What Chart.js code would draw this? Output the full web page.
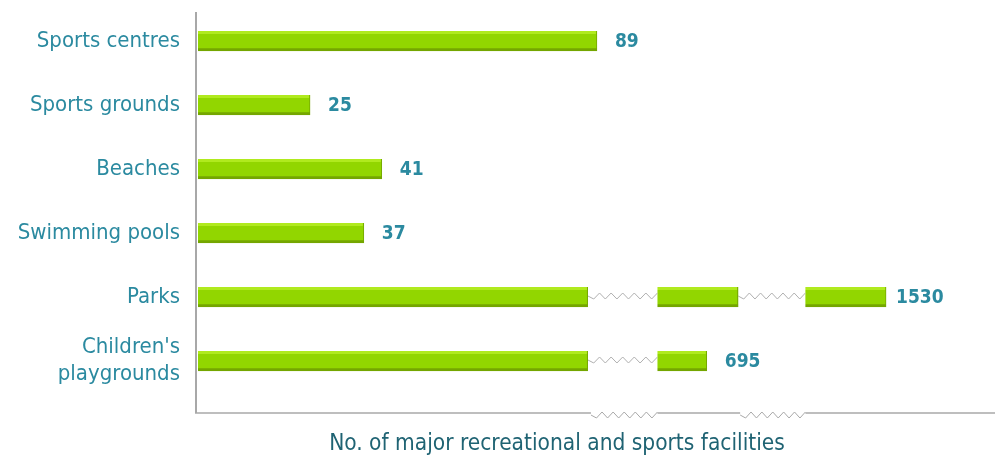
<!DOCTYPE html>
<html><head><meta charset="utf-8">
<script src="https://cdn.jsdelivr.net/npm/chart.js@4.4.1/dist/chart.umd.min.js"></script>
<style>html,body{margin:0;padding:0;background:#fff}#wrap{width:997px;height:457px}</style>
</head><body><div id="wrap"><canvas id="c" width="997" height="457"></canvas></div>
<script>
const categories = ["Sports centres", "Sports grounds", "Beaches", "Swimming pools", "Parks", ["Children's", "playgrounds"]];
const facilities = [89, 25, 41, 37, 1530, 695];
const axisTitle = "No. of major recreational and sports facilities";
// broken x-axis: [cut from, cut to, width of the gap in scale units]
const axisBreaks = [[89, 684, 13.5], [702, 1512, 15]];

const FONT = "'DejaVu Sans Condensed', 'DejaVu Sans', sans-serif";
const TEAL = '#2b8aa0';

function toDisplay(v) {
  let off = 0;
  for (const [a, b, g] of axisBreaks) {
    if (v <= a) return v - off;
    if (v < b) return a - off;
    off += (b - a) - g;
  }
  return v - off;
}

class BrokenScale extends Chart.LinearScale {
  getPixelForValue(value) { return super.getPixelForValue(toDisplay(value)); }
}
BrokenScale.id = 'broken';
BrokenScale.defaults = Chart.LinearScale.defaults;
Chart.register(BrokenScale);

function zigzag(ctx, x0, x1, y, amp) {
  const n = 12; const step = (x1 - x0) / n;
  ctx.beginPath(); ctx.moveTo(x0, y);
  for (let i = 1; i <= n; i++) ctx.lineTo(x0 + i * step, y + (i % 2 ? amp : -amp) * 0.5);
  ctx.stroke();
}

const breakPlugin = {
  id: 'breaks',
  beforeDatasetsDraw(chart) {
    const {ctx, chartArea} = chart;
    const x = chart.scales.x;
    const left = chartArea.left, right = chartArea.right, yb = chartArea.bottom + 20;
    ctx.save();
    ctx.strokeStyle = '#a8a8a8'; ctx.lineWidth = 2;
    ctx.beginPath(); ctx.moveTo(left - 2, 12); ctx.lineTo(left - 2, yb); ctx.stroke();
    let cur = left - 3;
    axisBreaks.forEach(([a, b], j) => {
      const p0 = x.getPixelForValue(a) + (j === 0 ? -6 : 2), p1 = x.getPixelForValue(b);
      ctx.lineWidth = 1.5;
      ctx.beginPath(); ctx.moveTo(cur, yb); ctx.lineTo(p0, yb); ctx.stroke();
      ctx.lineWidth = 1; zigzag(ctx, p0, p1, yb + 2, 6);
      cur = p1;
    });
    ctx.lineWidth = 1.5;
    ctx.beginPath(); ctx.moveTo(cur, yb); ctx.lineTo(right, yb); ctx.stroke();
    // axis title
    ctx.fillStyle = '#1f6373';
    ctx.font = "22.5px " + FONT;
    ctx.textAlign = 'center'; ctx.textBaseline = 'middle';
    ctx.fillText(axisTitle, left + 359, 444);
    ctx.restore();
  },
  afterDatasetsDraw(chart) {
    const {ctx} = chart;
    const x = chart.scales.x;
    const meta = chart.getDatasetMeta(0);
    ctx.save();
    meta.data.forEach((bar, i) => {
      const v = facilities[i];
      const h = bar.height;
      const top = bar.y - h / 2;
      ctx.fillStyle = 'rgba(185,240,40,0.75)';
      ctx.fillRect(bar.base, top, bar.x - bar.base - 1, 3);
      axisBreaks.forEach(([a, b], j) => {
        if (v > b) {
          const p0 = x.getPixelForValue(a) - (j === 0 ? 9 : 0), p1 = x.getPixelForValue(b);
          ctx.fillStyle = '#fff';
          ctx.fillRect(p0, top - 1, p1 - p0, h + 3);
          ctx.strokeStyle = '#b0b0b0'; ctx.lineWidth = 1;
          zigzag(ctx, p0, p1, bar.y - 1, 6);
          ctx.fillStyle = '#76a800';
          ctx.fillRect(p0 - 1, top, 1, h);
        }
      });
      ctx.fillStyle = TEAL;
      ctx.font = "bold 19px " + FONT;
      ctx.textBaseline = 'middle'; ctx.textAlign = 'left';
      ctx.fillText(String(v), bar.x + (v > 1000 ? 10 : 18), bar.y + 1);
    });
    ctx.restore();
  }
};

new Chart(document.getElementById('c'), {
  type: 'bar',
  data: {
    labels: categories,
    datasets: [{
      data: facilities,
      backgroundColor: '#92d600',
      borderColor: '#74a600',
      borderWidth: {top: 0, left: 0, right: 1, bottom: 3},
      borderSkipped: false,
      barThickness: 20
    }]
  },
  options: {
    indexAxis: 'y',
    responsive: false,
    animation: false,
    layout: {padding: {top: 9, right: 2, bottom: 0, left: 0}},
    plugins: {legend: {display: false}, tooltip: {enabled: false}},
    scales: {
      x: {
        type: 'broken', min: 0, max: 177.8,
        grid: {display: false, drawTicks: false}, border: {display: false},
        ticks: {display: false},
        title: {display: false},
        afterFit(s) { s.height = 64; s.paddingLeft = 0; s.paddingRight = 0; }
      },
      y: {
        grid: {display: false, drawTicks: false}, border: {display: false},
        ticks: {color: TEAL, padding: 18, font: {family: FONT, size: 22, lineHeight: 1.25}},
        afterFit(s) { s.width = 198; s.paddingTop = 0; s.paddingBottom = 0; }
      }
    }
  },
  plugins: [breakPlugin]
});
</script></body></html>
